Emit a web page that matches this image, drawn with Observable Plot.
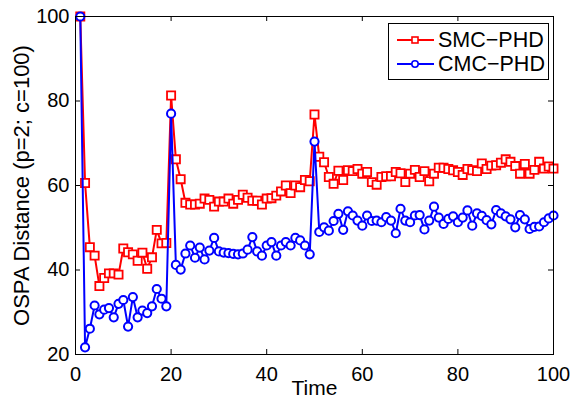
<!DOCTYPE html>
<html><head><meta charset="utf-8">
<script src="https://cdn.jsdelivr.net/npm/d3@7"></script>
<script src="https://cdn.jsdelivr.net/npm/@observablehq/plot@0.6"></script>
<style>
body{margin:0;background:#fff;}
#wrap{position:relative;width:573px;height:400px;font-family:"Liberation Sans",Arial,Helvetica,sans-serif;}
#legend{position:absolute;left:388px;top:23px;width:161px;height:57px;border:1px solid #000;background:#fff;box-sizing:border-box;}
.row{position:absolute;left:0;height:24px;width:160px;}
.row svg{position:absolute;left:6px;top:0;}
.row span{position:absolute;left:49px;top:0;font-size:21.5px;line-height:24px;color:#000;white-space:nowrap;}
</style></head><body><div id="wrap"></div>
<script>
const time = [1,2,3,4,5,6,7,8,9,10,11,12,13,14,15,16,17,18,19,20,
21,22,23,24,25,26,27,28,29,30,31,32,33,34,35,36,37,38,39,40,
41,42,43,44,45,46,47,48,49,50,51,52,53,54,55,56,57,58,59,60,
61,62,63,64,65,66,67,68,69,70,71,72,73,74,75,76,77,78,79,80,
81,82,83,84,85,86,87,88,89,90,91,92,93,94,95,96,97,98,99,100];

const smc = [100,60.6,45.4,43.4,36.2,38.1,39.2,39.2,38.9,45.1,
44.2,43.7,42.2,44.1,40.3,43.0,49.5,46.3,46.4,81.3,
66.2,61.5,55.9,55.5,55.5,55.7,56.9,56.6,55.0,56.2,
56.2,56.9,55.7,56.6,57.8,57.1,56.4,56.4,55.5,56.9,
57.0,57.6,58.6,60.0,58.2,60.0,59.6,61.3,61.0,76.8,
66.8,65.5,62.0,60.4,63.5,61.3,63.6,63.4,63.9,62.8,
63.2,60.8,60.2,62.0,62.2,62.2,63.2,62.9,60.8,62.8,
63.7,62.0,63.4,61.0,62.8,64.2,64.2,63.9,63.6,63.2,
62.5,63.9,63.6,63.4,65.2,63.9,64.7,64.8,65.4,66.2,
65.6,64.6,62.8,65.1,62.8,63.7,65.6,64.0,64.5,64.0];

const cmc = [100,21.7,26.1,31.6,29.5,30.6,31.0,28.8,32.0,32.9,
26.6,33.6,28.8,30.4,29.8,31.4,35.5,33.2,31.4,77.0,
41.2,40.1,43.9,45.8,42.9,45.3,42.5,44.6,47.6,44.4,
44.1,44.0,43.8,43.7,43.9,44.8,47.8,44.4,43.4,45.8,
46.6,43.4,45.8,46.6,45.8,47.6,47.0,45.8,43.7,70.4,
49.0,50.1,49.3,51.6,53.3,49.5,53.9,52.9,51.7,50.5,
52.9,51.6,51.7,51.3,52.5,51.7,48.7,54.5,51.7,51.3,
52.9,53.0,49.6,51.7,55.0,52.4,50.9,52.1,52.7,51.3,
52.4,54.1,50.5,53.4,52.8,51.8,50.8,54.2,53.4,52.7,
52.0,50.1,53.0,52.0,49.7,50.2,50.3,51.3,52.2,52.9];

const xTicks = [0,20,40,60,80,100];
const yTicks = [20,40,60,80,100];
const seriesNames = ["SMC\u2212PHD","CMC\u2212PHD"];
const colors = ["#ff0000","#0000ff"];
const xLabel = "Time";
const yLabel = "OSPA Distance (p=2; c=100)";

const smcData = time.map((t,i)=>({t, v: smc[i]}));
const cmcData = time.map((t,i)=>({t, v: cmc[i]}));

const W = 573, H = 400, mL = 75, mR = 20, mT = 16, mB = 46;
const fw = W - mL - mR, fh = H - mT - mB, tick = 5;

const chart = Plot.plot({
  width: W, height: H,
  marginLeft: mL, marginRight: mR, marginTop: mT, marginBottom: mB,
  style: {fontFamily: "'Liberation Sans', Arial, Helvetica, sans-serif", fontSize: "20px", background: "white", color: "black", overflow: "visible"},
  x: {domain: [0,100]},
  y: {domain: [20,100]},
  marks: [
    Plot.line(smcData, {x: "t", y: "v", stroke: colors[0], strokeWidth: 2}),
    Plot.dot(smcData, {x: "t", y: "v", symbol: "square", r: 4.6, stroke: colors[0], fill: "white", strokeWidth: 1.8}),
    Plot.line(cmcData, {x: "t", y: "v", stroke: colors[1], strokeWidth: 2}),
    Plot.dot(cmcData, {x: "t", y: "v", symbol: "circle", r: 4.1, stroke: colors[1], fill: "white", strokeWidth: 2}),
    Plot.ruleX(xTicks, {x: d => d, insetTop: fh - tick, stroke: "black"}),
    Plot.ruleX(xTicks, {x: d => d, insetBottom: fh - tick, stroke: "black"}),
    Plot.ruleY(yTicks, {y: d => d, insetRight: fw - tick, stroke: "black"}),
    Plot.ruleY(yTicks, {y: d => d, insetLeft: fw - tick, stroke: "black"}),
    Plot.frame({stroke: "black", strokeWidth: 1}),
    Plot.axisX(xTicks, {anchor: "bottom", tickSize: 0, tickPadding: 12, label: null, fontSize: 20}),
    Plot.axisY(yTicks, {anchor: "left", tickSize: 0, tickPadding: 6, label: null, fontSize: 20}),
    Plot.text([xLabel], {frameAnchor: "bottom", dy: 34, lineAnchor: "middle", textAnchor: "middle", fontSize: 21, fill: "black"}),
    Plot.text([yLabel], {frameAnchor: "left", dx: -54, rotate: -90, lineAnchor: "middle", textAnchor: "middle", fontSize: 22, fill: "black"})
  ]
});
const wrap = document.getElementById("wrap");
wrap.appendChild(chart);

const legend = document.createElement("div");
legend.id = "legend";
const marks = ["square","circle"];
seriesNames.forEach((name, i) => {
  const row = document.createElement("div");
  row.className = "row";
  row.style.top = (4 + i*24) + "px";
  const c = colors[i];
  const m = marks[i] === "square"
    ? `<rect x="17" y="9" width="6" height="6" fill="white" stroke="${c}" stroke-width="1.6"/>`
    : `<circle cx="20" cy="12" r="3.2" fill="white" stroke="${c}" stroke-width="1.6"/>`;
  row.innerHTML = `<svg width="40" height="24"><line x1="2" y1="12" x2="39" y2="12" stroke="${c}" stroke-width="2"/>${m}</svg><span>${name}</span>`;
  legend.appendChild(row);
});
wrap.appendChild(legend);
</script>
</body></html>
